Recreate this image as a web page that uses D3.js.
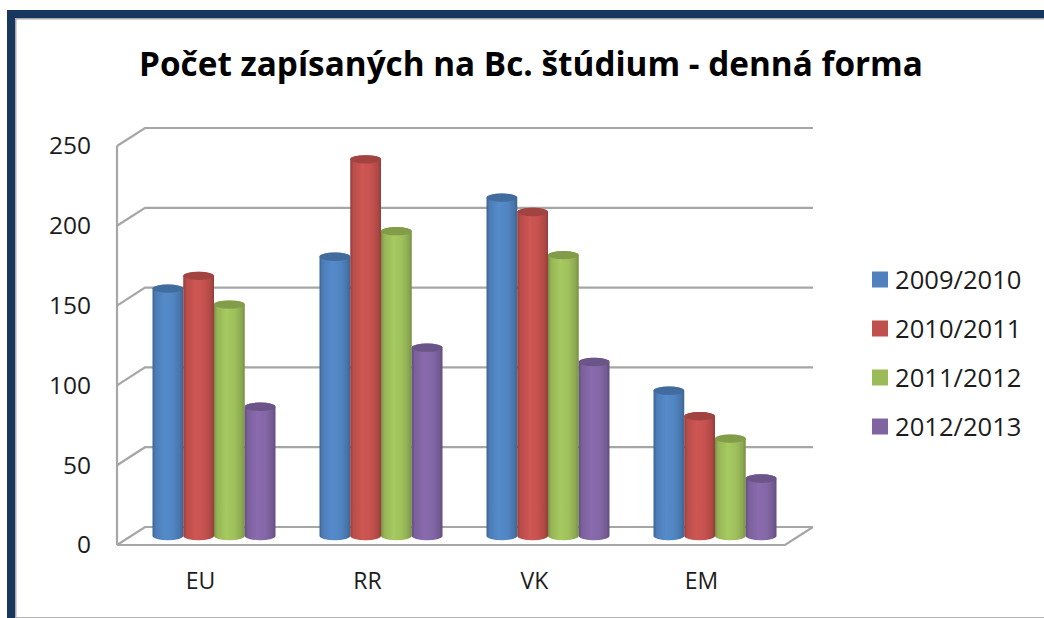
<!DOCTYPE html>
<html><head><meta charset="utf-8">
<script src="https://cdn.jsdelivr.net/npm/d3@7"></script>
<style>html,body{margin:0;padding:0;background:#fff}svg{display:block}
text{font-family:"Open Sans","Noto Sans",sans-serif;fill:#1c1c1c}</style>
</head><body><svg id="c" width="1044" height="618"></svg>
<script>
const titleText = "Počet zapísaných na Bc. štúdium - denná forma";
const categories = ["EU","RR","VK","EM"];
const seriesNames = ["2009/2010","2010/2011","2011/2012","2012/2013"];
const s2009 = [155,175,212,91];
const s2010 = [163,236,203,75];
const s2011 = [145,191,176,61];
const s2012 = [81,118,109,36];
const seriesValues = [s2009,s2010,s2011,s2012];
const colors = ["#4f81bd","#c0504d","#9bbb59","#8064a2"];
const yTicks = [0,50,100,150,200,250];

const svg = d3.select("#c");
const defs = svg.append("defs");
const dx = 28, dy = -18;
const x = d3.scaleBand().domain(categories).range([117,785]);
const y = d3.scaleLinear().domain([0,250]).range([545,146]);
const inner = d3.scaleBand().domain(d3.range(4)).range([-61.5,61.5]);

colors.forEach((c,i)=>{
  const g = defs.append("linearGradient").attr("id","g"+i);
  const d = d3.color(c).darker(0.75), b = d3.color(c).brighter(0.2);
  [[0,d],[0.1,d3.color(c).darker(0.1)],[0.4,b],[0.68,d3.color(c).brighter(0.08)],[0.9,d3.color(c).darker(0.3)],[1,d]]
   .forEach(([o,col])=>g.append("stop").attr("offset",o).attr("stop-color",col));
});

// frame
svg.append("rect").attr("x",15).attr("y",18).attr("width",1029).attr("height",1.5).attr("fill","#a8a8a8");
svg.append("rect").attr("x",15).attr("y",18).attr("width",1.5).attr("height",600).attr("fill","#a8a8a8");
svg.append("rect").attr("x",7).attr("y",10).attr("width",1037).attr("height",8).attr("fill","#17375e");
svg.append("rect").attr("x",7).attr("y",10).attr("width",8).attr("height",608).attr("fill","#17375e");
svg.append("rect").attr("x",15).attr("y",617).attr("width",1029).attr("height",1).attr("fill","#b5b5b5");

svg.append("text").attr("x",531).attr("y",76).attr("text-anchor","middle")
  .attr("font-size",33.3).attr("font-weight",700).style("fill","#000").text(titleText);

// walls and gridlines
const grid = svg.append("g").attr("fill","none").attr("stroke","#a6a6a6").attr("stroke-width",2.2);
const [xL,xR] = x.range();
grid.selectAll("path.g").data(yTicks).join("path").attr("class","g")
  .attr("d",v=>`M${xL},${y(v)}L${xL+dx},${y(v)+dy}L${xR+dx},${y(v)+dy}`);
grid.append("path").attr("d",`M${xL},${y(0)}V${y(250)}`);
grid.append("path").attr("d",`M${xL},${y(0)}H${xR}L${xR+dx},${y(0)+dy}`);

// cylinders
const rx = inner.bandwidth()/2, ry = 4.2;
const bars = svg.append("g");
categories.forEach((cat,ci)=>{
  seriesValues.forEach((vals,si)=>{
    const cx = x(cat)+x.bandwidth()/2+dx/2-0.5+inner(si)+rx;
    const yb = y(0)+dy/2, yt = y(vals[ci])+dy/2;
    bars.append("path")
      .attr("d",`M${cx-rx},${yt}V${yb}A${rx},${ry} 0 0 0 ${cx+rx},${yb}V${yt}A${rx},${ry} 0 0 0 ${cx-rx},${yt}Z`)
      .attr("fill",`url(#g${si})`);
    bars.append("ellipse").attr("cx",cx).attr("cy",yt).attr("rx",rx).attr("ry",ry)
      .attr("fill",d3.color(colors[si]).darker(0.5));
  });
});

// axes
const yAxis = svg.append("g").attr("transform","translate(91,0)")
  .call(d3.axisLeft(y).tickValues(yTicks).tickSize(0).tickPadding(0));
yAxis.select(".domain").remove();
yAxis.selectAll("text").attr("font-size",24.5).style("font-family",'"Open Sans",sans-serif').style("fill","#1c1c1c");

const xAxis = svg.append("g").attr("transform","translate(0,573)")
  .call(d3.axisBottom(x).tickSize(0).tickPadding(0));
xAxis.select(".domain").remove();
xAxis.selectAll("text").attr("font-size",23).style("font-family",'"Open Sans",sans-serif').style("fill","#1c1c1c");

// legend
const leg = d3.scaleBand().domain(seriesNames).range([255,451]);
const lg = svg.selectAll("g.l").data(seriesNames).join("g").attr("class","l")
  .attr("transform",d=>`translate(872,${leg(d)+leg.bandwidth()/2})`);
lg.append("rect").attr("x",0).attr("y",-8).attr("width",16).attr("height",16)
  .attr("fill",(d,i)=>colors[i]);
lg.append("text").attr("x",23).attr("dy","0.36em").attr("font-size",25.6).text(d=>d);
</script></body></html>
